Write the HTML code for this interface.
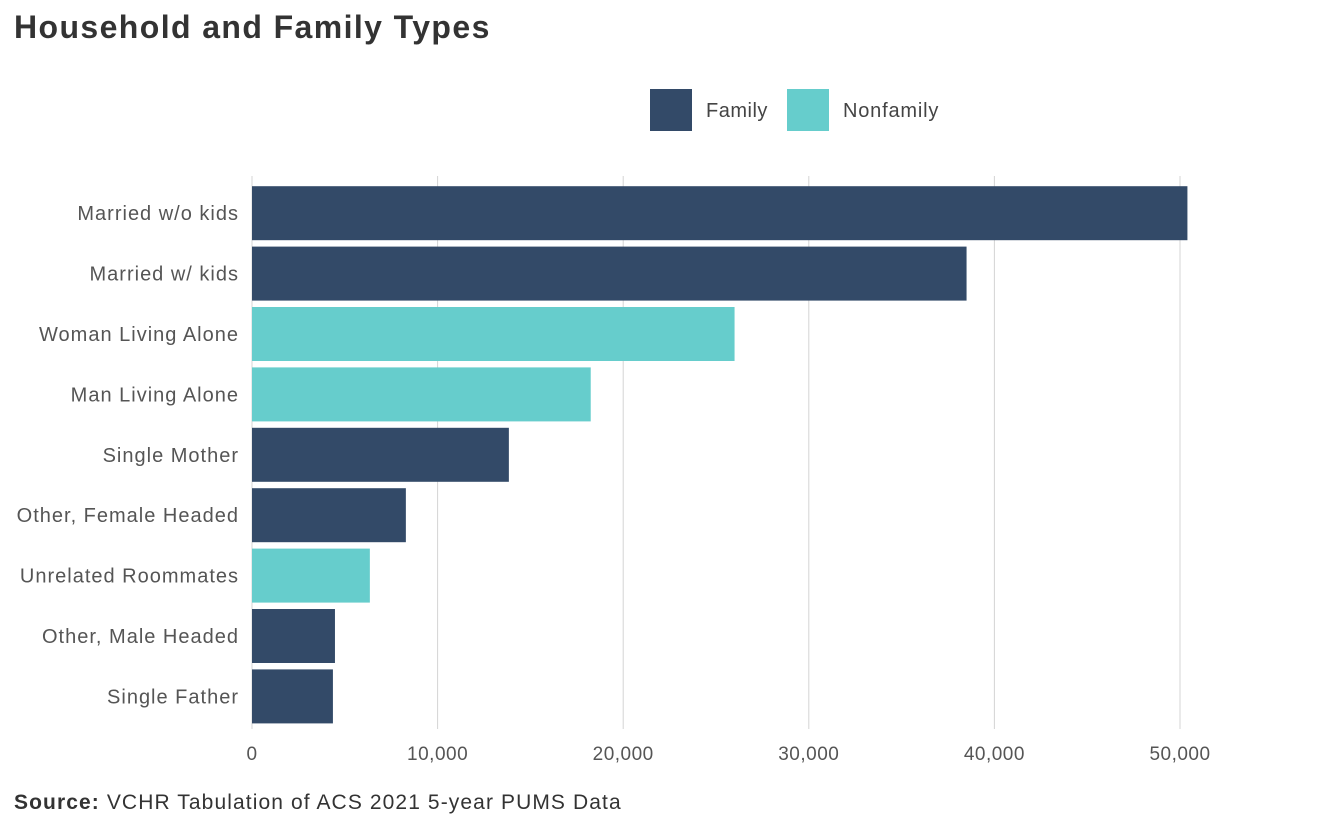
<!DOCTYPE html>
<html><head><meta charset="utf-8"><style>
body{margin:0;background:#fff;font-family:"Liberation Sans",sans-serif;}
svg text{font-family:"Liberation Sans",sans-serif;}
</style></head><body>
<svg id="chart" width="1344" height="830">
<text x="14" y="38" font-size="32" font-weight="bold" fill="#333" letter-spacing="1.4">Household and Family Types</text>
<g>
<rect x="650" y="89" width="42" height="42" fill="#334a68"/>
<text x="706" y="117" font-size="20" fill="#444" letter-spacing="0.5">Family</text>
<rect x="787" y="89" width="42" height="42" fill="#66cdcc"/>
<text x="843" y="117" font-size="20" fill="#444" letter-spacing="0.8">Nonfamily</text>
</g>
<g id="grid"></g><g id="bars"></g><g id="ylabels"></g><g id="xlabels"></g>
<text x="14" y="809" font-size="21" fill="#333" letter-spacing="1.1"><tspan font-weight="bold">Source:</tspan> VCHR Tabulation of ACS 2021 5-year PUMS Data</text>
</svg>
<script>
const categories=["Married w/o kids","Married w/ kids","Woman Living Alone","Man Living Alone","Single Mother","Other, Female Headed","Unrelated Roommates","Other, Male Headed","Single Father"];
const values=[50400,38500,26000,18250,13840,8290,6350,4470,4360];
const types=["Family","Family","Nonfamily","Nonfamily","Family","Family","Nonfamily","Family","Family"];
const ticks=[0,10000,20000,30000,40000,50000];
const tickLabels=["0","10,000","20,000","30,000","40,000","50,000"];
const NS="http://www.w3.org/2000/svg";
const x0=252,pxPer=(1180-252)/50000,gridTop=176,plotTop=183,band=60.4,bh=54;
const xs=v=>x0+v*pxPer;
const ys=i=>plotTop+i*band+(band-bh)/2;
function mk(t,a){const e=document.createElementNS(NS,t);for(const k in a)e.setAttribute(k,a[k]);return e;}
const grid=document.getElementById('grid'),bars=document.getElementById('bars'),yl=document.getElementById('ylabels'),xl=document.getElementById('xlabels');
ticks.forEach((t,i)=>{
 const l=mk('line',{x1:xs(t),x2:xs(t),y1:gridTop,y2:729,stroke:'#d4d4d4','stroke-width':1});
 
 
 grid.appendChild(l);
 const tx=mk('text',{x:xs(t),y:760,'font-size':19,fill:'#555','text-anchor':'middle','letter-spacing':0.5});
 tx.textContent=tickLabels[i];
 
 
 xl.appendChild(tx);
});
categories.forEach((c,i)=>{
 const r=mk('rect',{x:x0,y:ys(i),width:xs(values[i])-x0,height:bh,fill:types[i]==="Family"?'#334a68':'#66cdcc'});
 
 
 bars.appendChild(r);
 const t=mk('text',{x:239,y:ys(i)+bh/2+7,'font-size':20,fill:'#555','text-anchor':'end','letter-spacing':1});
 t.textContent=c;
 
 
 yl.appendChild(t);
});
</script>
</body></html>
